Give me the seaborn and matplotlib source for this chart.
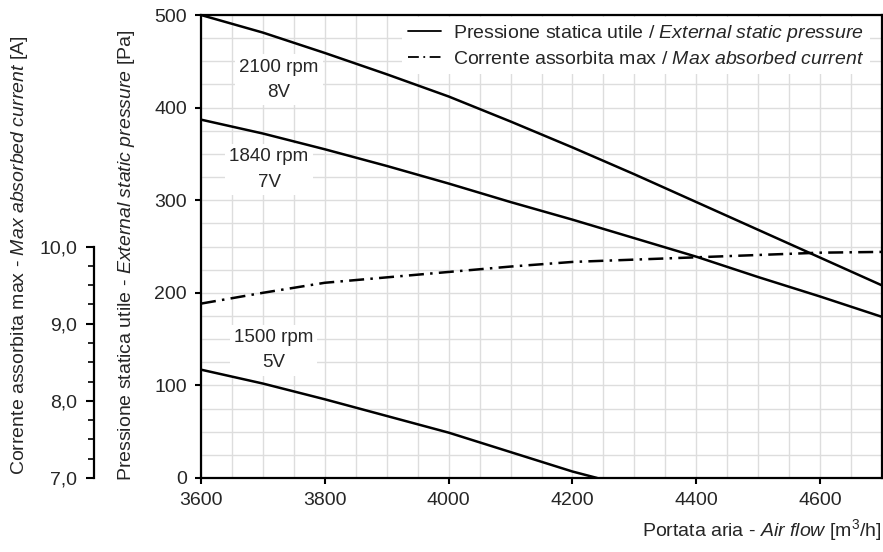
import numpy as np
import pandas as pd
import matplotlib
matplotlib.use("Agg")
import matplotlib.pyplot as plt
import seaborn as sns
from matplotlib.lines import Line2D
from matplotlib.ticker import MultipleLocator, FuncFormatter

# ---- data ----
airflow = [3600, 3700, 3800, 3900, 4000, 4100, 4200, 4300, 4400, 4500, 4600, 4700]
p_2100 = [500, 481, 459, 436, 412, 385, 357, 328, 298, 268, 238, 208]
p_1840 = [387, 372, 355, 337, 318, 298, 279, 259, 239, 217, 196, 174]
airflow_1500 = [3600, 3700, 3800, 3900, 4000, 4100, 4200, 4240]
p_1500 = [117, 102, 85, 67, 49, 28, 7, 0]
current = [9.26, 9.40, 9.53, 9.60, 9.67, 9.74, 9.80, 9.83, 9.86, 9.89, 9.92, 9.93]
speed_labels = ["2100 rpm\n8V", "1840 rpm\n7V", "1500 rpm\n5V"]
label_pos_x = [3726, 3710, 3717]
label_pos_y = [430, 333, 138]
x_ticks = [3600, 3800, 4000, 4200, 4400, 4600]
y_ticks = [0, 100, 200, 300, 400, 500]
a_ticks = [7.0, 8.0, 9.0, 10.0]

sns.set_theme(style="white")
FONT = "Liberation Sans"
plt.rcParams['font.family'] = [FONT, 'DejaVu Sans']
plt.rcParams['mathtext.fontset'] = 'custom'
plt.rcParams['mathtext.rm'] = FONT
plt.rcParams['mathtext.it'] = FONT + ':italic'
plt.rcParams['mathtext.bf'] = FONT + ':bold'

fig = plt.figure(figsize=(8.83, 5.52), dpi=100)
W, H = 883, 552
ax = fig.add_axes([201 / W, (H - 478) / H, (882 - 201) / W, (478 - 15) / H])

lw = 1.8
df = pd.DataFrame({"x": airflow, "p2100": p_2100, "p1840": p_1840, "cur": current})
df15 = pd.DataFrame({"x": airflow_1500, "p": p_1500})
sns.lineplot(data=df, x="x", y="p2100", ax=ax, color="black", lw=lw, zorder=3)
sns.lineplot(data=df, x="x", y="p1840", ax=ax, color="black", lw=lw, zorder=3)
sns.lineplot(data=df15, x="x", y="p", ax=ax, color="black", lw=lw, zorder=3)

ax.set_xlim(3600, 4700)
ax.set_ylim(0, 500)
ax.set_xticks(x_ticks)
ax.set_yticks(y_ticks)
ax.xaxis.set_minor_locator(MultipleLocator(50))
ax.yaxis.set_minor_locator(MultipleLocator(25))
ax.grid(which="both", color="#dddddd", lw=1.0)
ax.set_axisbelow(True)
ax.tick_params(axis="both", which="major", direction="out", length=4, width=1.5,
               labelsize=14, color="black", pad=6, bottom=True, left=True)
ax.tick_params(axis="both", which="minor", length=0)
for s in ax.spines.values():
    s.set_color("black")
    s.set_linewidth(1.6)

ax.set_xlabel(r"Portata aria - $\mathit{Air\ flow}$ [m$^{3}$/h]", fontsize=14, loc="right",
              labelpad=6)
ax.set_ylabel(r"Pressione statica utile - $\mathit{External\ static\ pressure}$ [Pa]",
              fontsize=14)
ax.yaxis.set_label_coords(-0.094, 0.482)

for t, xx, yy in zip(speed_labels, label_pos_x, label_pos_y):
    ax.text(xx, yy, t, ha="center", va="center", fontsize=13.5, linespacing=1.65,
            bbox=dict(facecolor="white", edgecolor="none", pad=3), zorder=2)

# secondary axis for current
ax2 = ax.twinx()
sns.lineplot(data=df, x="x", y="cur", ax=ax2, color="black", lw=lw,
             linestyle=(0, (6, 2.5, 1, 2.5)), zorder=3)
ax2.set_ylim(7, 13)
ax2.set_xlim(3600, 4700)
ax2.spines["right"].set_visible(False)
ax2.spines["top"].set_visible(False)
ax2.spines["bottom"].set_visible(False)
ax2.spines["left"].set_visible(True)
ax2.spines["left"].set_position(("outward", 77))
ax2.spines["left"].set_bounds(7, 10)
ax2.spines["left"].set_color("black")
ax2.spines["left"].set_linewidth(1.6)
ax2.yaxis.set_ticks_position("left")
ax2.yaxis.set_label_position("left")
ax2.set_yticks(a_ticks)
ax2.set_yticks(np.arange(7, 10.01, 0.25), minor=True)
ax2.yaxis.set_major_formatter(FuncFormatter(lambda v, p: f"{v:.1f}".replace(".", ",")))
ax2.tick_params(axis="y", which="major", direction="out", length=6, width=1.5,
                labelsize=14, color="black", pad=6, left=True)
ax2.tick_params(axis="y", which="minor", direction="out", length=4, width=1.2,
                color="black", left=True)
ax2.set_ylabel(r"Corrente assorbita max - $\mathit{Max\ absorbed\ current}$ [A]", fontsize=14)
ax2.yaxis.set_label_coords(-0.251, 0.482)
ax2.grid(False)

handles = [Line2D([0], [0], color="black", lw=1.3),
           Line2D([0], [0], color="black", lw=1.3, linestyle=(0, (6, 2.5, 1, 2.5)))]
labels = [r"Pressione statica utile / $\mathit{External\ static\ pressure}$",
          r"Corrente assorbita max / $\mathit{Max\ absorbed\ current}$"]
leg = ax2.legend(handles, labels, loc="upper right", bbox_to_anchor=(0.985, 1.0),
                 fontsize=14, frameon=True,
                 facecolor="white", edgecolor="none", framealpha=1, fancybox=False,
                 borderaxespad=0.1, borderpad=0.3, handlelength=1.7, handletextpad=0.6,
                 labelspacing=0.35)
leg.set_zorder(5)

fig.savefig("out.png", dpi=100)
